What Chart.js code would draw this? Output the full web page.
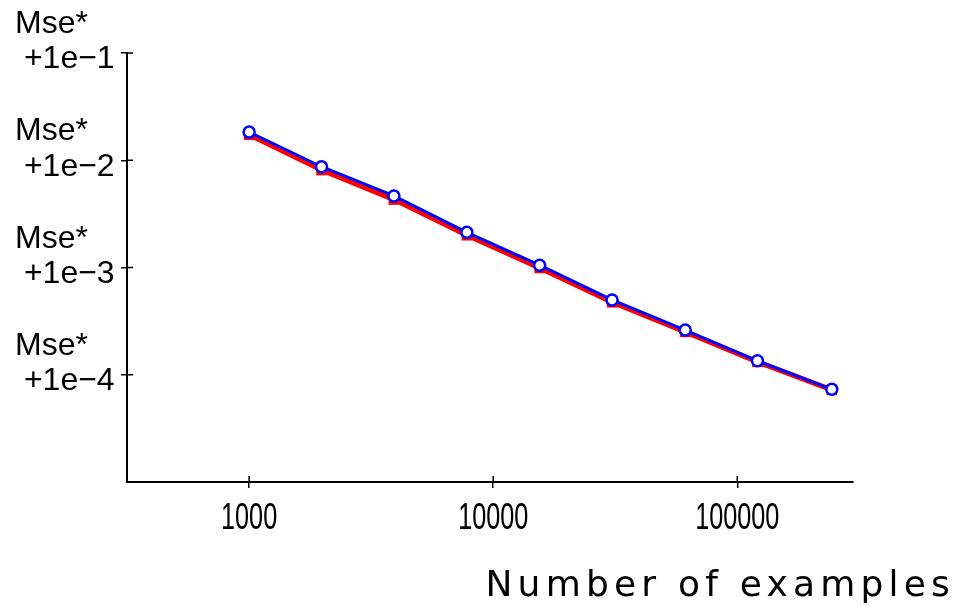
<!DOCTYPE html>
<html><head><meta charset="utf-8">
<script src="https://cdn.jsdelivr.net/npm/chart.js@4.4.1/dist/chart.umd.min.js"></script>
<style>html,body{margin:0;padding:0;background:#fff}</style>
</head><body>
<canvas id="c" width="953" height="607"></canvas>
<script>
const examples = [1000, 1980, 3920, 7800, 15500, 30700, 61200, 121000, 244000];
const blueMse = [0.0183, 0.0087, 0.00465, 0.00213, 0.00105, 0.000498, 0.000261, 0.000135, 0.0000731];
const redMse  = [0.0173, 0.0081, 0.0043, 0.00200, 0.00099, 0.000474, 0.000251, 0.000132, 0.0000723];
const xTickValues = [1000, 10000, 100000];
const xTickLabels = ['1000', '10000', '100000'];
const yTickValues = [1e-4, 1e-3, 1e-2, 1e-1];
const yTickLabels = [['Mse*', ' +1e\u22124'], ['Mse*', ' +1e\u22123'], ['Mse*', ' +1e\u22122'], ['Mse*', ' +1e\u22121']];
const xTitle = 'Number of examples';

const yFont = {family: '"Liberation Sans", Arial, Helvetica, sans-serif', size: 32, lineHeight: 1.1};

const extras = {
  id: 'extras',
  afterDraw(chart) {
    const {ctx, chartArea: a, scales: {x, y}} = chart;
    ctx.save();
    ctx.strokeStyle = '#000';
    ctx.lineWidth = 1.5;
    ctx.beginPath();
    xTickValues.forEach(v => { const px = x.getPixelForValue(v); ctx.moveTo(px, a.bottom); ctx.lineTo(px, a.bottom - 6); });
    yTickValues.forEach(v => { const py = y.getPixelForValue(v); ctx.moveTo(a.left, py); ctx.lineTo(a.left + 6, py); });
    ctx.stroke();
    // condensed x tick labels
    ctx.fillStyle = '#000';
    ctx.font = '36px "Liberation Sans", Arial, sans-serif';
    ctx.textAlign = 'center';
    ctx.textBaseline = 'alphabetic';
    xTickValues.forEach((v, i) => {
      const px = x.getPixelForValue(v);
      ctx.save();
      ctx.translate(px, a.bottom + 47);
      ctx.scale(0.7, 1);
      ctx.fillText(xTickLabels[i], 0, 0);
      ctx.restore();
    });
    ctx.font = '36px "DejaVu Sans"';
    ctx.letterSpacing = '5.2px';
    ctx.textAlign = 'right';
    ctx.fillText(xTitle, 955, 596);
    ctx.restore();
  }
};

new Chart(document.getElementById('c'), {
  type: 'line',
  data: {
    datasets: [
      {
        data: examples.map((v, i) => ({x: v, y: blueMse[i]})),
        borderColor: '#0000ff', borderWidth: 3,
        pointStyle: 'circle', pointRadius: 5.5, pointBorderWidth: 2.5,
        pointBackgroundColor: '#ffffff', pointBorderColor: '#0000ff',
        tension: 0
      },
      {
        data: examples.map((v, i) => ({x: v, y: redMse[i]})),
        borderColor: '#ff0000', borderWidth: 5,
        pointStyle: 'rect', pointRadius: 7.5, pointBorderWidth: 0,
        pointBackgroundColor: '#ff0000', pointBorderColor: '#ff0000',
        tension: 0
      }
    ]
  },
  options: {
    responsive: false,
    animation: false,
    devicePixelRatio: 1,
    layout: {padding: {left: 15, top: 53, right: 100, bottom: 0}},
    plugins: {legend: {display: false}, tooltip: {enabled: false}},
    scales: {
      x: {
        type: 'logarithmic', min: 316, max: 298000,
        border: {display: true, color: '#000', width: 2},
        grid: {drawOnChartArea: false, drawTicks: true, tickLength: 6, color: '#000', lineWidth: 1.5},
        afterBuildTicks: s => { s.ticks = xTickValues.map(v => ({value: v})); },
        afterFit: s => { s.height = 125; s.paddingLeft = 0; s.paddingRight = 0; },
        ticks: { display: false, autoSkip: false }
      },
      y: {
        type: 'logarithmic', min: 1e-5, max: 1e-1,
        border: {display: true, color: '#000', width: 2},
        grid: {drawOnChartArea: false, drawTicks: true, tickLength: 6, color: '#000', lineWidth: 1.5},
        afterBuildTicks: s => { s.ticks = yTickValues.map(v => ({value: v})); },
        afterFit: s => { s.width = 112; s.paddingTop = 0; s.paddingBottom = 0; },
        ticks: {
          color: '#000', font: yFont, padding: 4, crossAlign: 'far', labelOffset: -11, autoSkip: false,
          callback: (v) => { const i = yTickValues.findIndex(t => Math.abs(t - v) / t < 1e-6); return i >= 0 ? yTickLabels[i] : ''; }
        }
      }
    }
  },
  plugins: [extras]
});
</script>
</body></html>
